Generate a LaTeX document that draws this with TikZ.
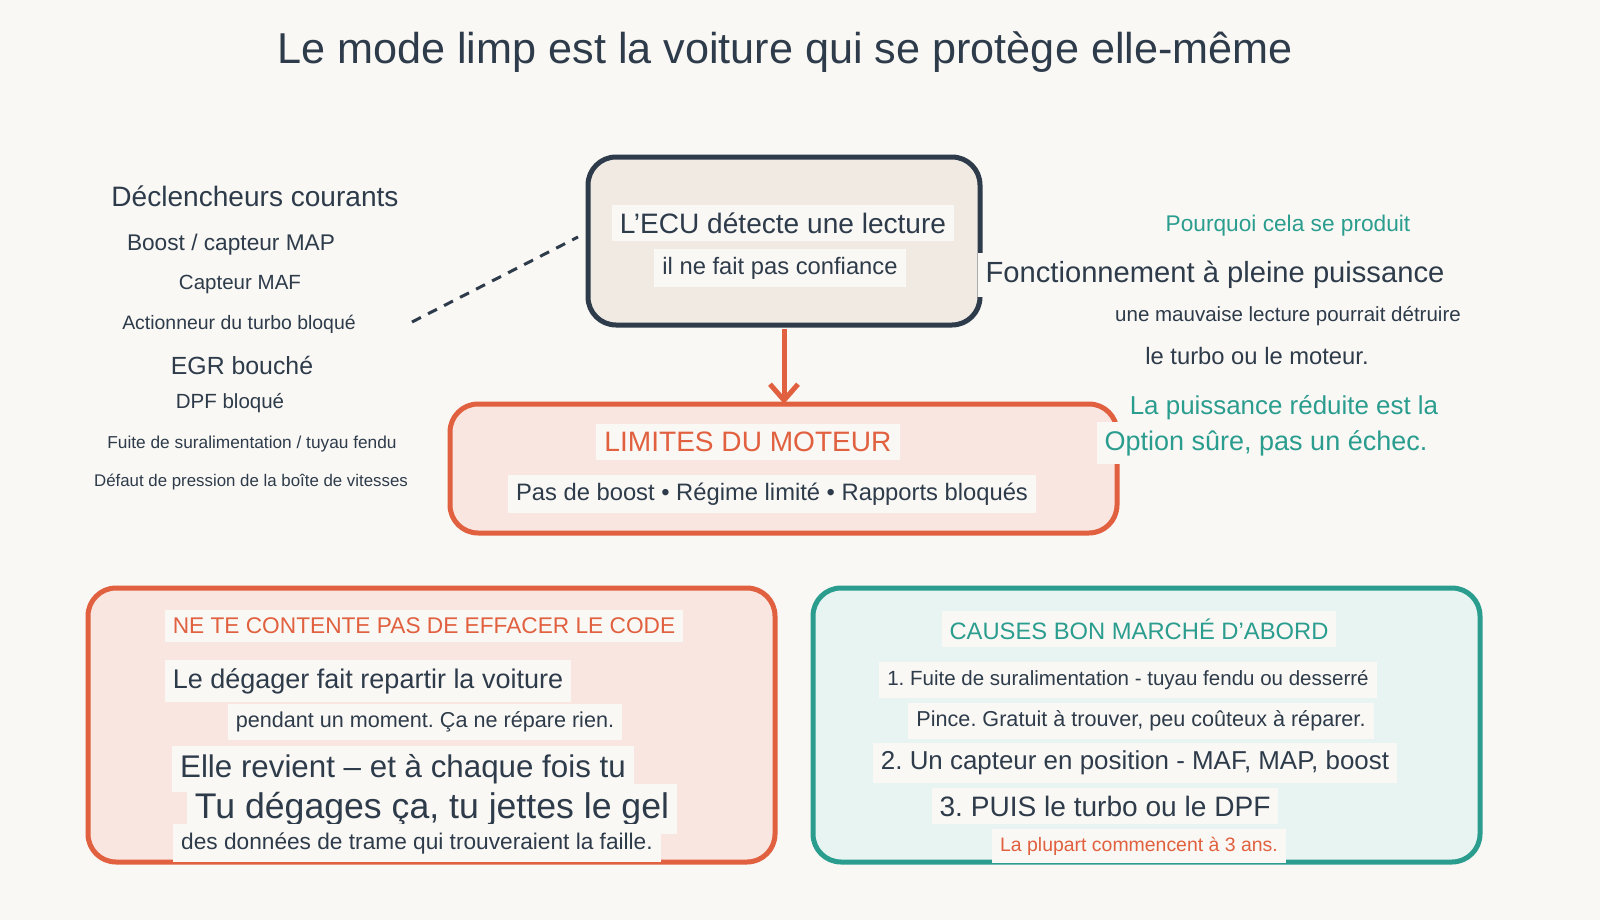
\documentclass[tikz,border=0pt]{standalone}
\usepackage{fontspec}
\setmainfont{Liberation Sans}
\usetikzlibrary{arrows.meta}
\frenchspacing
\definecolor{bgc}{HTML}{FAF8F4}
\definecolor{ink}{HTML}{2D3B4A}
\definecolor{rust}{HTML}{E0603F}
\definecolor{teal}{HTML}{2A9D8F}
\definecolor{pinkf}{HTML}{F9E6E0}
\definecolor{tealf}{HTML}{E8F4F1}
\definecolor{sandf}{HTML}{F0EAE3}
\newcommand{\fsz}[1]{\fontsize{\fpeval{1.08*#1}}{\fpeval{1.08*#1}}\selectfont}
\tikzset{
  txt/.style={fill=bgc,text=ink,inner xsep=4pt,inner ysep=4pt},
  panel/.style={rounded corners=14pt,line width=2.5pt}
}
\begin{document}
\begin{tikzpicture}[x=0.5pt,y=-0.5pt]
\useasboundingbox[fill=bgc] (0,0) rectangle (1600,920);

\node[txt,font=\fsz{20}] (title) at (785,52) {Le mode limp est la voiture qui se protège elle-même};

% ECU box
\draw[panel,ink,fill=sandf] (588,157) rectangle (980,325);
\node[txt,font=\fsz{13}] (ecua) at (783,223) {L’ECU détecte une lecture};
\node[txt,font=\fsz{11}] (ecub) at (780,268) {il ne fait pas confiance};

% declencheurs
\node[txt,font=\fsz{13}] (trig) at (255,196) {Déclencheurs courants};
\node[txt,font=\fsz{10.5}] at (231,245) {Boost / capteur MAP};
\node[txt,font=\fsz{9.5}] at (240,284) {Capteur MAF};
\node[txt,font=\fsz{9}] at (239,324) {Actionneur du turbo bloqué};
\node[txt,font=\fsz{11.5}] at (242,365) {EGR bouché};
\node[txt,font=\fsz{9.5}] at (230,403) {DPF bloqué};
\node[txt,font=\fsz{8}] at (252,444) {Fuite de suralimentation / tuyau fendu};
\node[txt,font=\fsz{7.8}] at (251,482) {Défaut de pression de la boîte de vitesses};
\coordinate (dashA) at (412,322);
\coordinate (dashB) at (578,237);
\draw[ink,line width=1.5pt,dash pattern=on 5pt off 4pt] (dashA) -- (dashB);

% limites
\draw[panel,rust,fill=pinkf] (450,404) rectangle (1117,533);
\coordinate (limtop) at (784,404);
\coordinate (ecubot) at (784,329);
\draw[rust,line width=2.5pt,-{Straight Barb[length=8pt,width=14pt]}] (ecubot) -- (limtop);
\node[txt,text=rust,font=\fsz{13}] (lima) at (748,442) {LIMITES DU MOTEUR};
\node[txt,font=\fsz{11}] (limb) at (772,494) {Pas de boost • Régime limité • Rapports bloqués};

% pourquoi
\node[txt,text=teal,font=\fsz{10.5}] at (1288,226) {Pourquoi cela se produit};
\node[txt,font=\fsz{13.5}] at (1215,275) {Fonctionnement à pleine puissance};
\node[txt,font=\fsz{9.5}] at (1288,316) {une mauvaise lecture pourrait détruire};
\node[txt,font=\fsz{11}] at (1257,356) {le turbo ou le moteur.};
\node[txt,text=teal,font=\fsz{12}] at (1284,408) {La puissance réduite est la};
\node[txt,text=teal,font=\fsz{12.5}] at (1266,443) {Option sûre, pas un échec.};

% effacer
\draw[panel,rust,fill=pinkf] (88,588) rectangle (775,862);
\node[txt,text=rust,font=\fsz{10.5}] at (424,626) {NE TE CONTENTE PAS DE EFFACER LE CODE};
\node[txt,font=\fsz{12.5}] at (368,681) {Le dégager fait repartir la voiture};
\node[txt,font=\fsz{10}] at (425,722) {pendant un moment. Ça ne répare rien.};
\node[txt,font=\fsz{14.5}] at (403,769) {Elle revient – et à chaque fois tu};
\node[txt,font=\fsz{16.5}] at (432,809) {Tu dégages ça, tu jettes le gel};
\node[txt,font=\fsz{10.5}] at (417,843) {des données de trame qui trouveraient la faille.};

% causes
\draw[panel,teal,fill=tealf] (813,588) rectangle (1480,862);
\node[txt,text=teal,font=\fsz{11}] at (1139,629) {CAUSES BON MARCHÉ D’ABORD};
\node[txt,font=\fsz{9.5}] at (1128,680) {1. Fuite de suralimentation - tuyau fendu ou desserré};
\node[txt,font=\fsz{10}] at (1141,721) {Pince. Gratuit à trouver, peu coûteux à réparer.};
\node[txt,font=\fsz{12}] at (1135,763) {2. Un capteur en position - MAF, MAP, boost};
\node[txt,font=\fsz{13}] at (1105,806) {3. PUIS le turbo ou le DPF};
\node[txt,text=rust,font=\fsz{9}] at (1139,846) {La plupart commencent à 3 ans.};
\end{tikzpicture}
\end{document}
